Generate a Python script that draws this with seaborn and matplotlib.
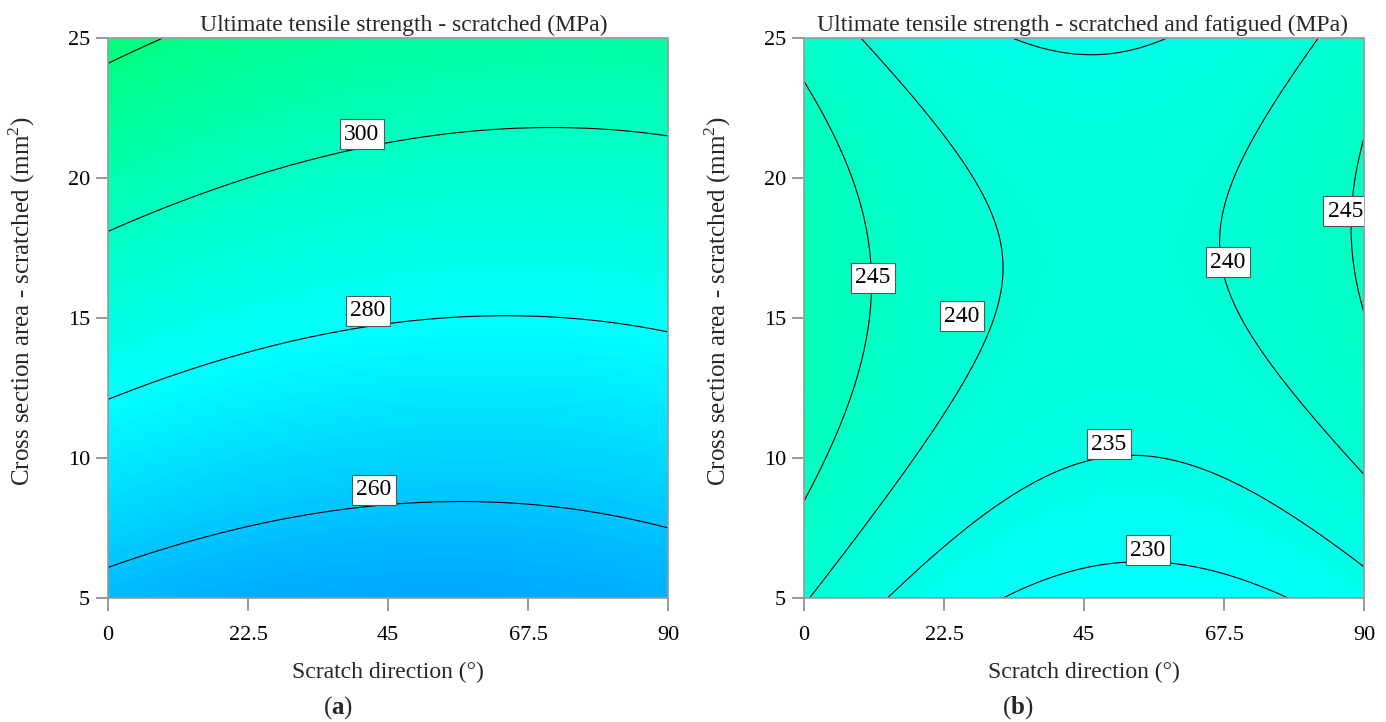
import numpy as np
import matplotlib
matplotlib.use("Agg")
import matplotlib.pyplot as plt
import seaborn as sns

# ---- data -------------------------------------------------------------
x_ticks = [0, 22.5, 45, 67.5, 90]
x_tick_labels = ["0", "22.5", "45", "67.5", "90"]
y_ticks = [5, 10, 15, 20, 25]
y_tick_labels = ["5", "10", "15", "20", "25"]

# quadratic response-surface coefficients:
# [const, x, y, x^2, x*y, y^2]
coef_a = [239.7, -0.2319, 3.333, 0.002437, -0.00529, 0.0]
coef_b = [230.739, -0.47777, 2.29315, 0.00418, 0.003762, -0.071854]

levels_a = [260, 280, 300, 320]
levels_b = [230, 235, 240, 245]
# label box centres (data units)
label_pos_a = [(40.8, 21.57), (41.8, 15.25), (42.7, 8.86)]
label_pos_b = [(11.1, 16.43), (25.4, 15.07), (68.1, 17.0), (87.0, 18.82), (49.0, 10.5), (55.3, 6.71)]

titles = ["Ultimate tensile strength - scratched (MPa)",
          "Ultimate tensile strength - scratched and fatigued (MPa)"]
title_x = [0.529, 0.498]
panel_tags = ["a", "b"]
xlabel = "Scratch direction (°)"
ylabel = "Cross section area - scratched (mm$^2$)"
color_range_a = (194, 534)
color_range_b = (156.5, 442.5)

# ---- style ------------------------------------------------------------
sns.set_theme(style="white")
plt.rcParams["font.family"] = ["Liberation Serif", "DejaVu Serif"]
plt.rcParams["mathtext.fontset"] = "custom"
plt.rcParams["mathtext.rm"] = "Liberation Serif"
plt.rcParams["mathtext.bf"] = "Liberation Serif:bold"

cmap = sns.blend_palette(["#0000FF", "#00FFFF", "#00FF00", "#FFFF00", "#FF0000"], as_cmap=True)

W, H = 1386, 722
fig = plt.figure(figsize=(W / 100, H / 100), dpi=100)
ax_a = fig.add_axes([108 / W, 124 / H, 560 / W, 560 / H])
ax_b = fig.add_axes([804 / W, 124 / H, 560 / W, 560 / H])

xs = np.linspace(0, 90, 181)
ys = np.linspace(5, 25, 161)
X, Y = np.meshgrid(xs, ys)


def surface(c):
    return c[0] + c[1] * X + c[2] * Y + c[3] * X**2 + c[4] * X * Y + c[5] * Y**2


def draw(ax, coef, levels, label_pos, crange, title, tx):
    Z = surface(coef)
    ax.pcolormesh(X, Y, Z, cmap=cmap, vmin=crange[0], vmax=crange[1], shading="gouraud",
                  rasterized=True)
    cs = ax.contour(X, Y, Z, levels=levels, colors="black", linewidths=0.8)
    texts = ax.clabel(cs, inline=False, manual=label_pos, fmt="%d", fontsize=17, colors="black")
    for t, pos in zip(texts, label_pos):
        t.set_position(pos)
        t.set_rotation(0)
        t.set_ha("center")
        t.set_va("center")
        t.set_bbox(dict(facecolor="white", edgecolor="#555555", linewidth=0.8, pad=3))
        t.set_zorder(5)
    ax.set_xlim(0, 90)
    ax.set_ylim(5, 25)
    ax.set_xticks(x_ticks)
    ax.set_xticklabels(x_tick_labels)
    ax.set_yticks(y_ticks)
    ax.set_yticklabels(y_tick_labels)
    ax.tick_params(axis="both", which="both", direction="out", length=9, width=1.2,
                   color="#888888", labelsize=16, labelcolor="black",
                   bottom=True, left=True)
    ax.tick_params(axis="x", pad=11)
    ax.tick_params(axis="y", pad=4)
    for s in ax.spines.values():
        s.set_color("#999999")
        s.set_linewidth(1.2)
    ax.set_title(title, fontsize=17, pad=5, x=tx)
    ax.set_xlabel(xlabel, fontsize=17, labelpad=12)
    ax.set_ylabel(ylabel, fontsize=18)
    ax.yaxis.set_label_coords(-0.127, 0.53)


draw(ax_a, coef_a, levels_a, label_pos_a, color_range_a, titles[0], title_x[0])
draw(ax_b, coef_b, levels_b, label_pos_b, color_range_b, titles[1], title_x[1])

for tag, xc in zip(panel_tags, [338, 1018]):
    fig.text(xc / W, 1 - 708 / H, "(" + r"$\mathbf{" + tag + "}$" + ")",
             ha="center", va="center", fontsize=18)

fig.savefig("out.png", dpi=100)
